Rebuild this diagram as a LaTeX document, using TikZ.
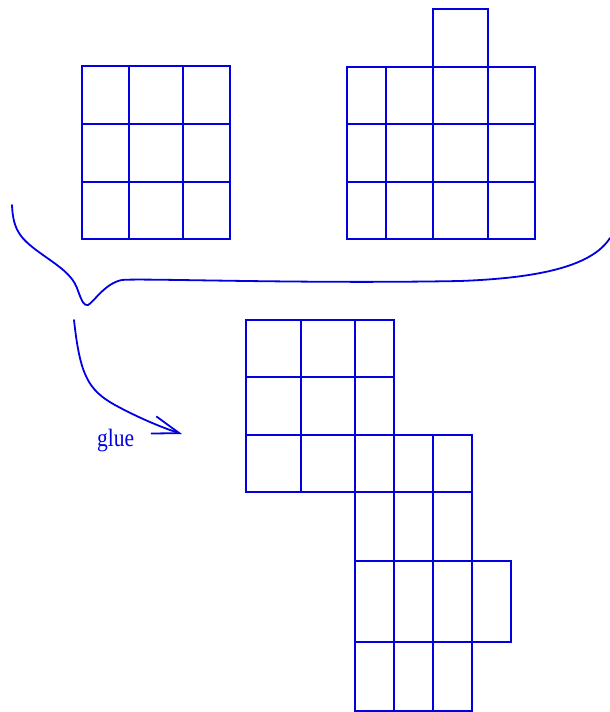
\documentclass[tikz,border=0pt]{standalone}
\usepackage{fontspec}
\newfontfamily\gluefont{Liberation Serif}
\usetikzlibrary{arrows.meta}
\definecolor{ink}{RGB}{0,0,225}
\tikzset{
  gridline/.style={draw=ink, line width=1.8pt},
  curveline/.style={draw=ink, line width=1.8pt, line cap=round},
}
\begin{document}
\begin{tikzpicture}[x=1pt,y=-1pt]
\useasboundingbox (0,0) rectangle (610,712);
% top-left 3x3 grid
\draw[gridline] (82,66) rectangle (230,239);
\draw[gridline] (129,66)--(129,239) (183,66)--(183,239) (82,124)--(230,124) (82,182)--(230,182);
% top-right grid with extra cell
\draw[gridline] (347,67) rectangle (535,239);
\draw[gridline] (386,67)--(386,239) (433,67)--(433,239) (488,67)--(488,239)
  (347,124)--(535,124) (347,182)--(535,182);
\draw[gridline] (433,9) rectangle (488,67);
% bottom glued shape
\draw[gridline] (246,320) rectangle (394,492);
\draw[gridline] (301,320)--(301,492) (355,320)--(355,492) (246,377)--(394,377) (246,435)--(394,435);
\draw[gridline] (394,435) rectangle (472,492);
\draw[gridline] (433,435)--(433,492);
\draw[gridline] (355,492) rectangle (472,711);
\draw[gridline] (394,492)--(394,711) (433,492)--(433,711) (355,561)--(472,561) (355,642)--(472,642);
\draw[gridline] (472,561) rectangle (511,642);
% brace
\coordinate (bl) at (12,205);
\coordinate (br) at (610,238);
\draw[curveline] (bl) .. controls (13,232) and (22,240) .. (43,255)
  .. controls (60,267) and (72,275) .. (77,288)
  .. controls (82,302) and (84,306) .. (88,305)
  .. controls (93,303) and (105,283) .. (122,280)
  .. controls (140,278) and (300,284) .. (460,281)
  .. controls (540,278) and (592,266) .. (br);
% arrow
\coordinate (as) at (74,320);
\coordinate (ae) at (182,434);
\draw[curveline, -{Straight Barb[length=27pt,width=18pt,line width=1.8pt]}] (as) .. controls (80,375) and (88,390) .. (115,405)
  .. controls (135,416) and (160,427) .. (ae);
\node[ink, anchor=base west, inner sep=0pt, xscale=0.86] (glue) at (97,446) {\gluefont\fontsize{25}{25}\selectfont glue};
\end{tikzpicture}
\end{document}
